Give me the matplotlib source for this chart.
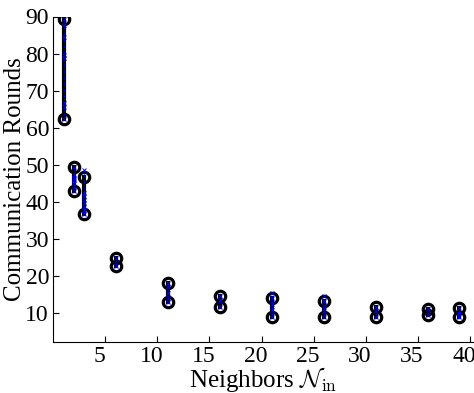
import numpy as np
import matplotlib
matplotlib.use('Agg')
import matplotlib.pyplot as plt
import matplotlib.transforms as mtransforms

plt.rcParams['font.family'] = ['Liberation Serif', 'DejaVu Serif']
plt.rcParams['mathtext.fontset'] = 'cm'

# neighbours on the x axis
neighbors = [1, 2, 3, 6, 11, 16, 21, 26, 31, 36, 39]

# black series: low / high value per neighbour count
black_lo = [62.5, 43.0, 36.8, 22.7, 13.1, 11.6, 9.1, 9.1, 8.9, 9.5, 8.9]
black_hi = [89.2, 49.5, 46.8, 24.8, 18.25, 14.75, 14.2, 13.4, 11.8, 11.1, 11.35]

# blue series: individual values per neighbour count
blue_vals = [
    [89.2, 87.7, 84.6, 79.6, 78.8, 66.7, 65.7, 62.5],
    [49.5, 47.2, 46.5, 45.8, 45.0, 44.1, 43.0],
    [48.6, 42.4, 41.5, 40.5, 39.6, 38.7, 37.8, 36.8],
    [24.8, 22.7],
    [18.25, 17.0, 15.5, 14.0, 13.1],
    [14.75, 13.5, 11.6],
    [15.55, 14.2, 12.5, 11.0, 9.1],
    [14.7, 13.4, 12.0, 10.5, 9.1],
    [11.8, 10.5, 8.9],
    [11.1, 9.5],
    [11.35, 10.2, 8.9],
]

fig = plt.figure(figsize=(4.74, 3.93), dpi=100)
ax = fig.add_axes([53.2 / 474, 51.5 / 393, 1 - 53.2 / 474, 325 / 393])

for n, lo, hi in zip(neighbors, black_lo, black_hi):
    ax.plot([n, n], [lo, hi], '-o', color='black', lw=3, ms=7.5,
            mfc='none', mec='black', mew=2.3)
for n, vals in zip(neighbors, blue_vals):
    ax.plot([n] * len(vals), vals, ':x', color='blue', lw=0.8, ms=3, mew=0.7)

ax.set_xlim(0, 40.4)
ax.set_ylim(2.4, 90)
ax.set_xticks(range(5, 41, 5))
ax.set_yticks(range(10, 91, 10))
ax.tick_params(direction='in', length=4, width=0.8, labelsize=17, pad=3)
ax.spines['top'].set_visible(False)
ax.spines['right'].set_visible(False)

# x tick labels sit a little left of their ticks in the original
shift = mtransforms.ScaledTranslation(-6 / 100, 0, fig.dpi_scale_trans)
for lab in ax.get_xticklabels():
    lab.set_transform(lab.get_transform() + shift)

ax.set_xlabel(r'Neighbors $\mathcal{N}_{\mathrm{in}}$', fontsize=18, labelpad=-1)
ax.set_ylabel('Communication Rounds', fontsize=18)
ax.yaxis.set_label_coords(-0.065, 0.5)

fig.savefig('out.png', dpi=100)
